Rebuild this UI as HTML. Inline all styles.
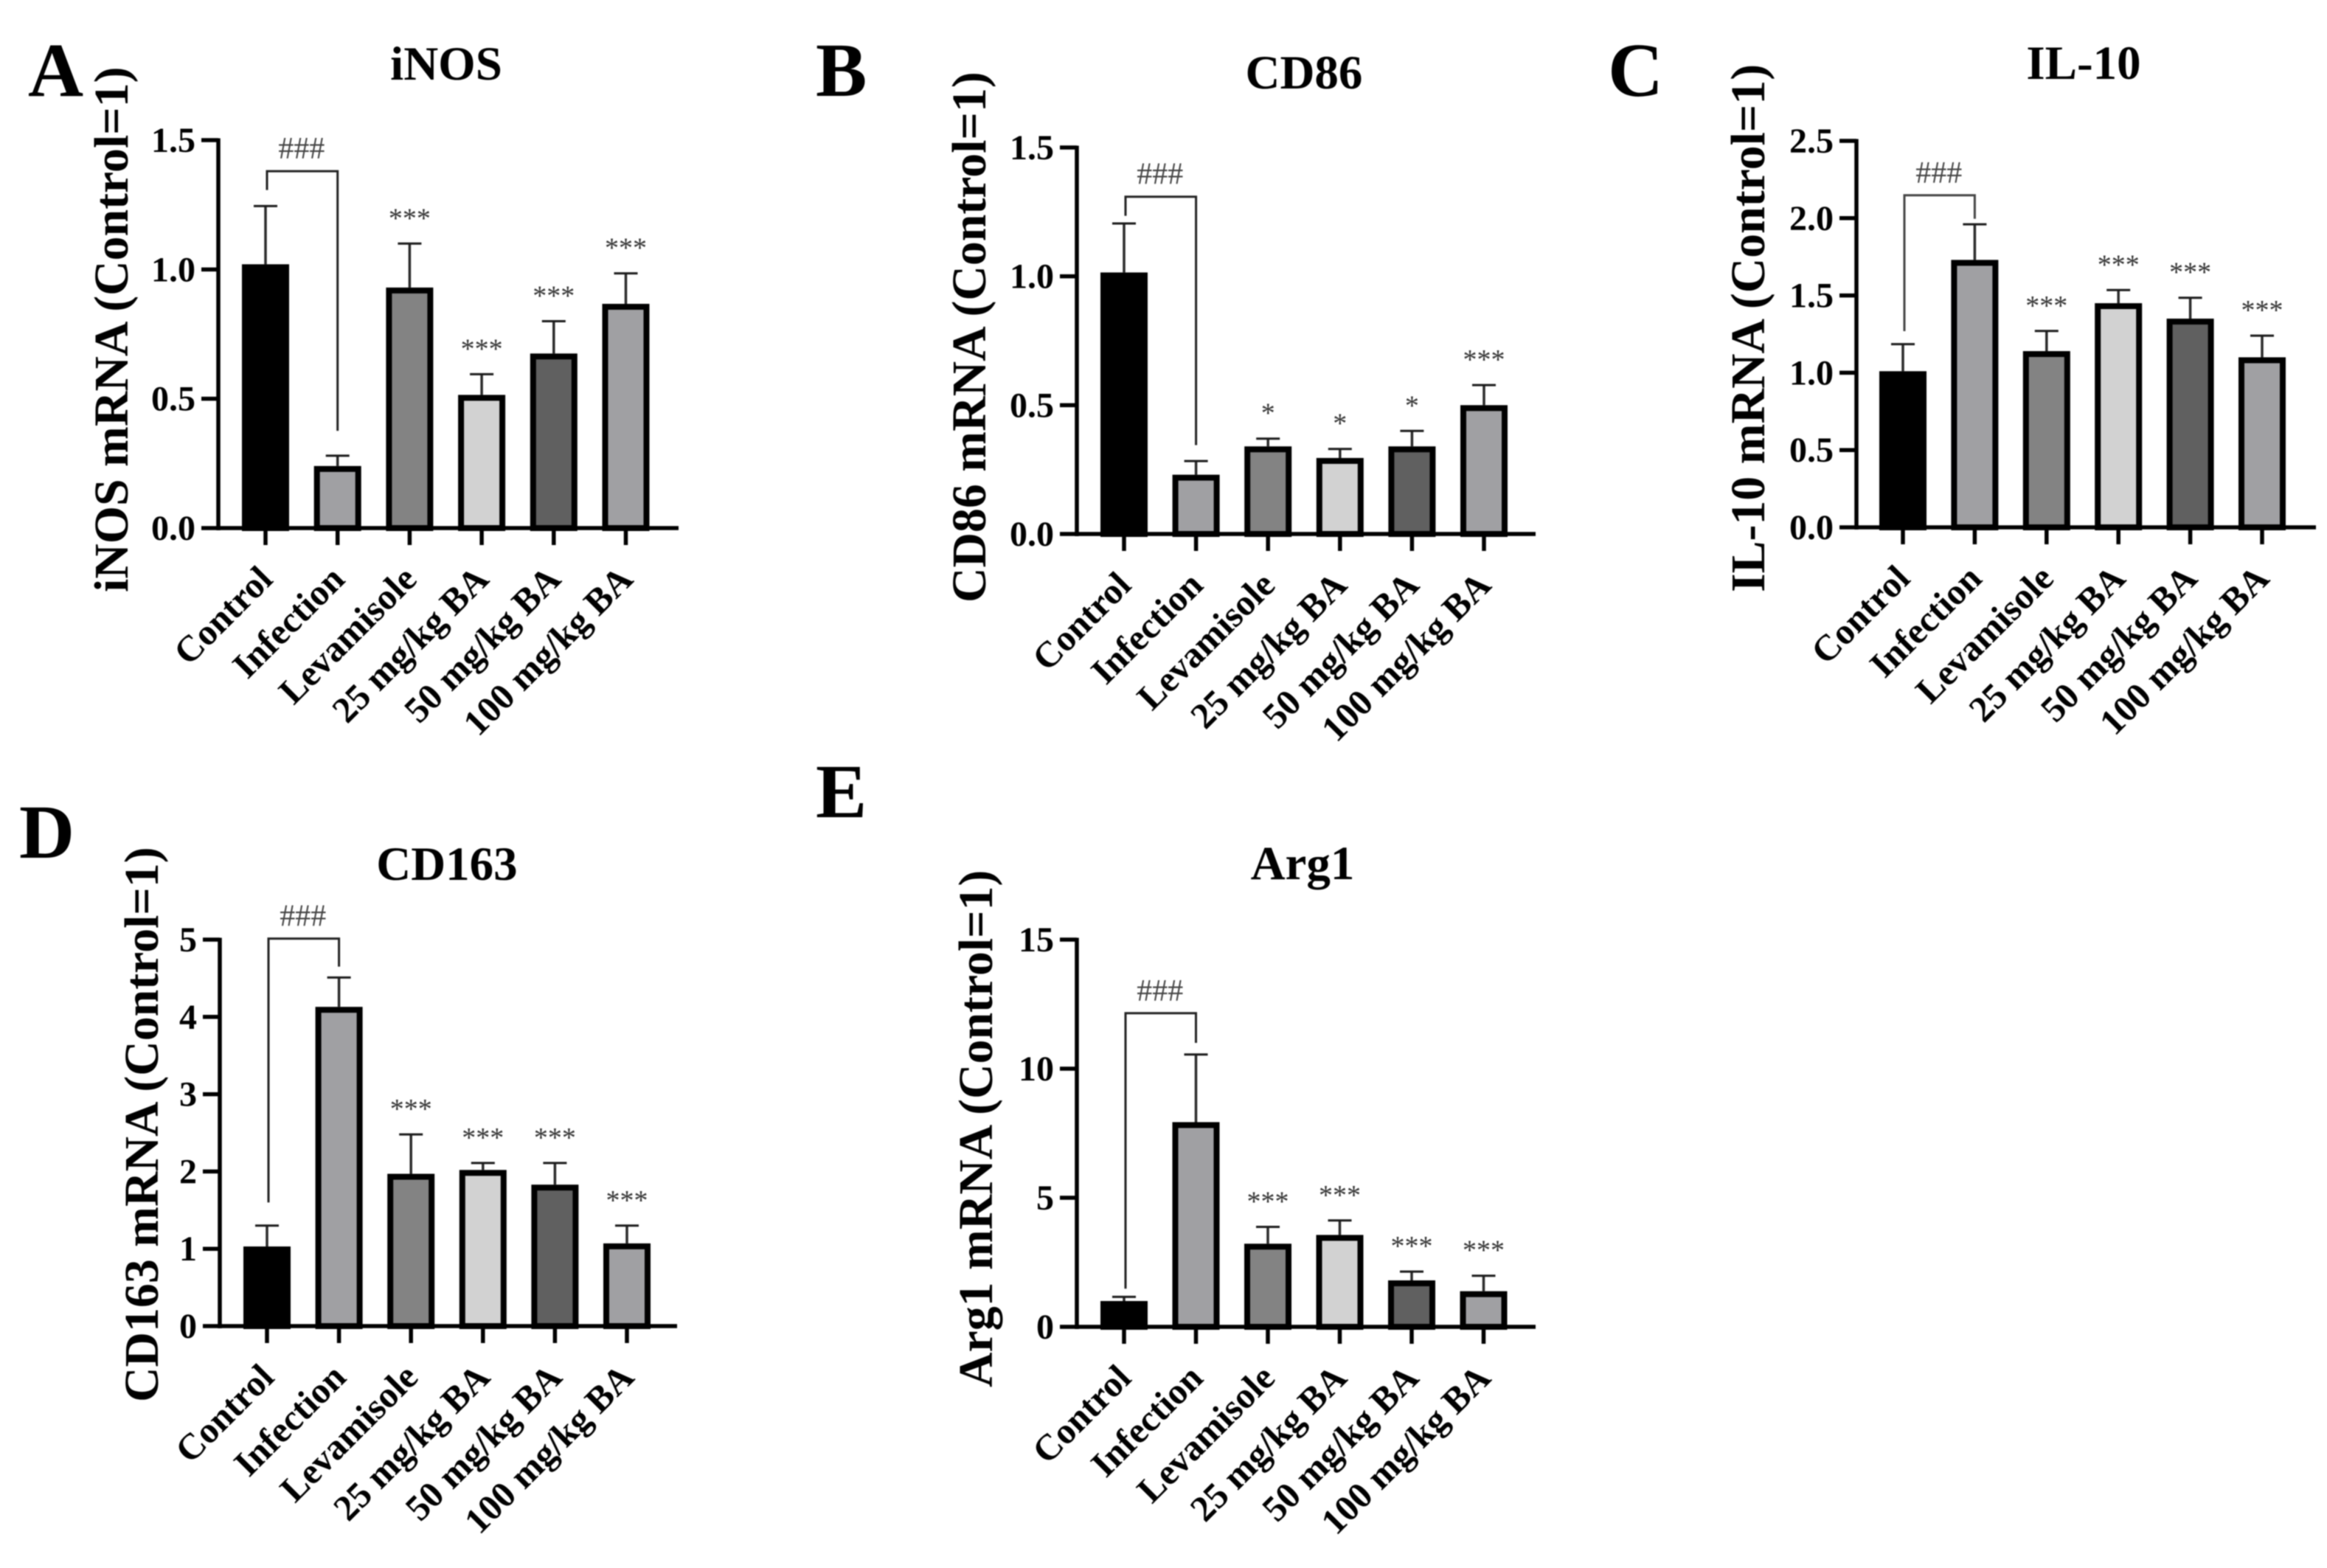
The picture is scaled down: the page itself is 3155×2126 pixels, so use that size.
<!DOCTYPE html>
<html lang="en">
<head>
<meta charset="utf-8">
<title>mRNA expression bar charts</title>
<style>
html,body{margin:0;padding:0;background:#fff;}
body{width:3155px;height:2126px;overflow:hidden;}
svg{display:block;filter:blur(0.7px);}
text{font-family:"Liberation Serif",serif;fill:#000;}
</style>
</head>
<body>
<svg id="figure" xmlns="http://www.w3.org/2000/svg" width="3155" height="2126" viewBox="0 0 3155 2126">
<rect width="3155" height="2126" fill="#fff"></rect>
</svg>
<script>
const categories = ["Control","Infection","Levamisole","25 mg/kg BA","50 mg/kg BA","100 mg/kg BA"];
const barFills = ["#000000","#a0a0a3","#838383","#d2d2d2","#606060","#a0a0a3"];

const inosMeans = [1.02,0.24,0.93,0.515,0.675,0.867];
const inosErrorTops = [1.245,0.28,1.10,0.595,0.80,0.985];
const inosStars = ["","","***","***","***","***"];
const inosTickValues = [0,0.5,1,1.5];
const inosTickLabels = ["0.0","0.5","1.0","1.5"];
const inosBracket = [1.38,1.307,0.376];

const cd86Means = [1.015,0.23,0.34,0.295,0.34,0.50];
const cd86ErrorTops = [1.205,0.283,0.37,0.33,0.40,0.578];
const cd86Stars = ["","","*","*","*","***"];
const cd86TickValues = [0,0.5,1,1.5];
const cd86TickLabels = ["0.0","0.5","1.0","1.5"];
const cd86Bracket = [1.309,1.235,0.345];

const il10Means = [1.01,1.73,1.14,1.45,1.35,1.10];
const il10ErrorTops = [1.185,1.96,1.27,1.535,1.485,1.24];
const il10Stars = ["","","***","***","***","***"];
const il10TickValues = [0,0.5,1,1.5,2,2.5];
const il10TickLabels = ["0.0","0.5","1.0","1.5","2.0","2.5"];
const il10Bracket = [2.148,1.269,1.996];

const cd163Means = [1.03,4.13,1.97,2.02,1.83,1.07];
const cd163ErrorTops = [1.30,4.51,2.48,2.11,2.11,1.30];
const cd163Stars = ["","","***","***","***","***"];
const cd163TickValues = [0,1,2,3,4,5];
const cd163TickLabels = ["0","1","2","3","4","5"];
const cd163Bracket = [5.013,1.6,4.65];

const arg1Means = [1.0,7.93,3.22,3.56,1.80,1.38];
const arg1ErrorTops = [1.16,10.55,3.87,4.12,2.14,1.98];
const arg1Stars = ["","","***","***","***","***"];
const arg1TickValues = [0,5,10,15];
const arg1TickLabels = ["0","5","10","15"];
const arg1Bracket = [12.15,1.48,11.0];

const svg = document.getElementById('figure');
const NS = 'http://www.w3.org/2000/svg';

function make(parent, tag, attrs, content) {
  const el = document.createElementNS(NS, tag);
  for (const k in attrs) el.setAttribute(k, attrs[k]);
  if (content !== undefined) el.textContent = content;
  parent.appendChild(el);
  return el;
}

function drawPanel(p) {
  const g = make(svg, 'g', {});
  
  

  const yMax = p.tickValues[p.tickValues.length - 1];
  const yScale = v => p.y0 - (v / yMax) * (p.y0 - p.yTop);
  const xScale = i => p.x0 + i * p.step;

  const letter = make(g, 'text', {x: p.letterX, y: p.letterY, 'font-size': 104, 'font-weight': 'bold'}, p.letter);
  
  

  const title = make(g, 'text', {x: p.titleX, y: p.titleY, 'font-size': 65, 'font-weight': 'bold', 'text-anchor': 'middle'}, p.title);
  
  

  const yTitle = make(g, 'text', {transform: 'translate(' + p.yTitleX + ',' + p.yTitleY + ') rotate(-90)', 'font-size': 65.8, 'font-weight': 'bold'}, p.yTitle);
  
  

  p.means.forEach((m, i) => {
    const cx = xScale(i);
    const err = make(g, 'line', {x1: cx, x2: cx, y1: yScale(m), y2: yScale(p.errorTops[i]), stroke: '#2a2a2a', 'stroke-width': 3.5});
    
    
    const cap = make(g, 'line', {x1: cx - 16, x2: cx + 16, y1: yScale(p.errorTops[i]), y2: yScale(p.errorTops[i]), stroke: '#1a1a1a', 'stroke-width': 3});
    
    
    const bar = make(g, 'rect', {x: cx - 28, y: yScale(m) + 4, width: 56, height: Math.max(0, p.y0 - yScale(m) - 4), fill: barFills[i], stroke: '#000', 'stroke-width': 8});
    
    
    if (p.stars[i]) {
      const star = make(g, 'text', {x: cx, y: yScale(p.errorTops[i]) - 40 + 18, 'font-size': 38, 'text-anchor': 'middle', style: 'fill:#333'}, p.stars[i]);
      
      
    }
  });

  const bracketX1 = xScale(0) + 2;
  const bracketX2 = xScale(1);
  const bracketPoints = bracketX1 + ',' + yScale(p.bracket[1]) + ' ' + bracketX1 + ',' + yScale(p.bracket[0]) + ' ' + bracketX2 + ',' + yScale(p.bracket[0]) + ' ' + bracketX2 + ',' + yScale(p.bracket[2]);
  const bracket = make(g, 'polyline', {points: bracketPoints, fill: 'none', stroke: p.bracketColor, 'stroke-width': 3});
  
  
  const hash = make(g, 'text', {x: (bracketX1 + bracketX2) / 2 - 1, y: yScale(p.bracket[0]) - 31 + 14, 'font-size': 42, 'text-anchor': 'middle', style: 'fill:#444'}, '###');
  
  

  const yAxis = make(g, 'line', {x1: p.axisX, x2: p.axisX, y1: p.yTop - 2.5, y2: p.y0 + 3, stroke: '#000', 'stroke-width': 5.5});
  
  
  const xAxis = make(g, 'line', {x1: p.axisX - 23, x2: p.axisEnd, y1: p.y0, y2: p.y0, stroke: '#000', 'stroke-width': 5.5});
  
  

  p.tickValues.forEach((v, i) => {
    const y = yScale(v);
    if (v !== 0) {
      const tick = make(g, 'line', {x1: p.axisX - 23, x2: p.axisX, y1: y, y2: y, stroke: '#000', 'stroke-width': 5.5});
      
      
    }
    const label = make(g, 'text', {x: p.axisX - 31, y: y + 16, 'font-size': 48, 'font-weight': 'bold', 'text-anchor': 'end'}, p.tickLabels[i]);
    
    
  });

  categories.forEach((c, i) => {
    const cx = xScale(i);
    const tick = make(g, 'line', {x1: cx, x2: cx, y1: p.y0, y2: p.y0 + 23, stroke: '#000', 'stroke-width': 5.5});
    
    
    const lx = cx + 12;
    const ly = p.y0 + 72;
    const label = make(g, 'text', {transform: 'translate(' + lx + ',' + ly + ') rotate(-45)', 'font-size': 49.5, 'font-weight': 'bold', 'text-anchor': 'end'}, c);
    
    
  });
}

drawPanel({key:'inos', letter:'A', letterX:38, letterY:130, title:'iNOS', titleX:605, titleY:108, yTitle:'iNOS mRNA (Control=1)', yTitleX:173, yTitleY:803,
  axisX:296, axisEnd:920, x0:360, step:97.7, yTop:190, y0:716, bracketColor:'#222',
  means:inosMeans, errorTops:inosErrorTops, stars:inosStars, tickValues:inosTickValues, tickLabels:inosTickLabels, bracket:inosBracket});

drawPanel({key:'cd86', letter:'B', letterX:1106, letterY:130, title:'CD86', titleX:1768, titleY:120, yTitle:'CD86 mRNA (Control=1)', yTitleX:1336, yTitleY:817,
  axisX:1460, axisEnd:2082, x0:1524, step:97.6, yTop:200, y0:724, bracketColor:'#222',
  means:cd86Means, errorTops:cd86ErrorTops, stars:cd86Stars, tickValues:cd86TickValues, tickLabels:cd86TickLabels, bracket:cd86Bracket});

drawPanel({key:'il10', letter:'C', letterX:2180, letterY:130, title:'IL-10', titleX:2825, titleY:107, yTitle:'IL-10 mRNA (Control=1)', yTitleX:2392, yTitleY:803,
  axisX:2517, axisEnd:3140, x0:2580, step:97.4, yTop:191, y0:715, bracketColor:'#444',
  means:il10Means, errorTops:il10ErrorTops, stars:il10Stars, tickValues:il10TickValues, tickLabels:il10TickLabels, bracket:il10Bracket});

drawPanel({key:'cd163', letter:'D', letterX:26, letterY:1163, title:'CD163', titleX:606, titleY:1193, yTitle:'CD163 mRNA (Control=1)', yTitleX:214, yTitleY:1901,
  axisX:298, axisEnd:918, x0:362, step:97.6, yTop:1274, y0:1798, bracketColor:'#222',
  means:cd163Means, errorTops:cd163ErrorTops, stars:cd163Stars, tickValues:cd163TickValues, tickLabels:cd163TickLabels, bracket:cd163Bracket});

drawPanel({key:'arg1', letter:'E', letterX:1106, letterY:1108, title:'Arg1', titleX:1766, titleY:1192, yTitle:'Arg1 mRNA (Control=1)', yTitleX:1345, yTitleY:1881,
  axisX:1460, axisEnd:2082, x0:1524, step:97.5, yTop:1274, y0:1799, bracketColor:'#222',
  means:arg1Means, errorTops:arg1ErrorTops, stars:arg1Stars, tickValues:arg1TickValues, tickLabels:arg1TickLabels, bracket:arg1Bracket});
</script>
</body>
</html>
